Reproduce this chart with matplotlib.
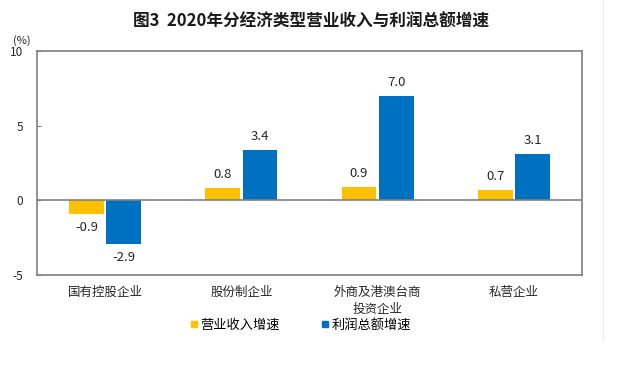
import matplotlib
matplotlib.use("Agg")
import matplotlib.pyplot as plt
import numpy as np
from matplotlib.lines import Line2D

plt.rcParams['font.family'] = ['Noto Sans CJK SC', 'DejaVu Sans']

categories = ["国有控股企业", "股份制企业", "外商及港澳台商\n投资企业", "私营企业"]
revenue = [-0.9, 0.8, 0.9, 0.7]
profit = [-2.9, 3.4, 7.0, 3.1]
series_names = ["营业收入增速", "利润总额增速"]
yticks = [-5, 0, 5, 10]

c_yellow = "#FFC000"
c_blue = "#0070C0"
frame_c = "#7F7F7F"

fig = plt.figure(figsize=(6.18, 3.86), dpi=100)
ax = fig.add_axes([37/618, 111/386, 545/618, 224/386])

x = np.arange(len(categories))
w = 0.255
off = 0.137
b1 = ax.bar(x - off, revenue, w, color=c_yellow, zorder=2)
b2 = ax.bar(x + off, profit, w, color=c_blue, zorder=2)

for bars, vals in ((b1, revenue), (b2, profit)):
    for b, v in zip(bars, vals):
        xc = b.get_x() + b.get_width()/2
        if v >= 0:
            ax.annotate(f"{v:.1f}", (xc, v), xytext=(0, 5), textcoords="offset points",
                        ha="center", va="bottom", fontsize=9.5, color="#262626")
        else:
            ax.annotate(f"{v:.1f}", (xc, v), xytext=(0, -5), textcoords="offset points",
                        ha="center", va="top", fontsize=9.5, color="#262626")

ax.set_xlim(-0.5, len(categories) - 0.5)
ax.set_ylim(-5, 10)
ax.set_yticks(yticks)
ax.set_yticklabels([str(t) for t in yticks], fontsize=8.5, color="#262626")
ax.set_xticks(x)
ax.set_xticklabels(categories, fontsize=9, color="#262626", linespacing=1.35, va="top")
ax.tick_params(axis="x", length=0, pad=8)
ax.tick_params(axis="y", direction="in", length=3, color=frame_c, pad=10)
for s in ax.spines.values():
    s.set_color(frame_c)
    s.set_linewidth(1.2)
ax.axhline(0, color=frame_c, lw=1.2, zorder=3)

fig.text(0.503, 1 - 22/386, "图3  2020年分经济类型营业收入与利润总额增速", ha="center", va="center",
         fontsize=12, fontweight="bold", color="#1a1a1a")
fig.text(22/618, 1 - 41/386, "(%)", ha="center", va="center", fontsize=8, color="#262626")

handles = [Line2D([], [], marker="s", linestyle="none", color=c_yellow, markersize=5),
           Line2D([], [], marker="s", linestyle="none", color=c_blue, markersize=5)]
fig.legend(handles, series_names, loc="center", bbox_to_anchor=(300/618, 1 - 325/386),
           ncol=2, frameon=False, fontsize=9.5, handletextpad=0.1, columnspacing=3.0,
           handlelength=0.8)

fig.add_artist(Line2D([603/618, 603/618], [1 - 340/386, 1.0], color="#EBEBEB", lw=1))

fig.savefig("out.png", dpi=100)
